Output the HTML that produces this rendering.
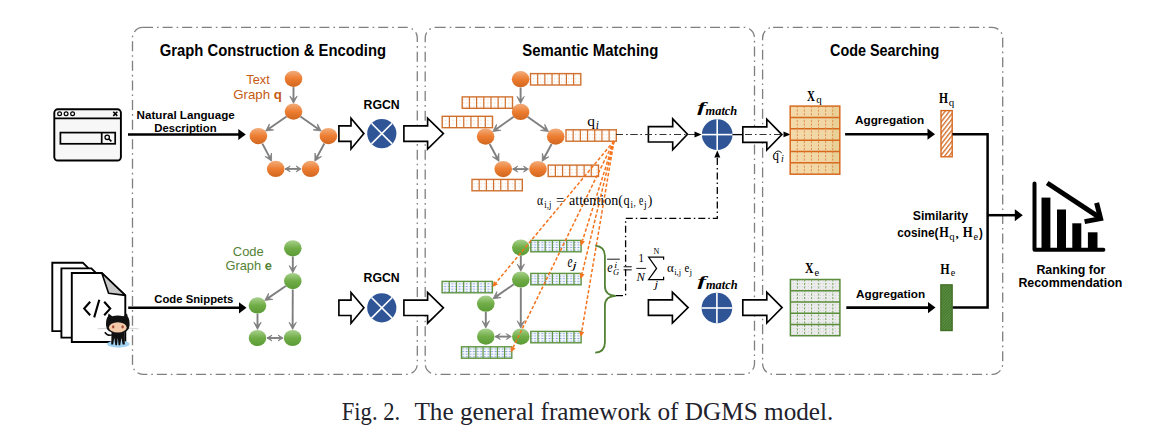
<!DOCTYPE html>
<html><head><meta charset="utf-8"><style>
html,body{margin:0;padding:0;background:#fff;width:1149px;height:434px;overflow:hidden}
svg{display:block}
</style></head><body>
<svg width="1149" height="434" viewBox="0 0 1149 434">
<defs>
<linearGradient id="gO" x1="0" y1="0" x2="0" y2="1">
 <stop offset="0" stop-color="#f2ad7c"/><stop offset="0.5" stop-color="#ed7d31"/><stop offset="1" stop-color="#d0671f"/>
</linearGradient>
<linearGradient id="gG" x1="0" y1="0" x2="0" y2="1">
 <stop offset="0" stop-color="#a9d18e"/><stop offset="0.5" stop-color="#70ad47"/><stop offset="1" stop-color="#5b9a36"/>
</linearGradient>
<pattern id="pO" width="3.5" height="3.5" patternUnits="userSpaceOnUse">
 <rect width="3.5" height="3.5" fill="#fff"/><rect x="1" y="1" width="1" height="1" fill="#f0c8a8"/>
</pattern>
<pattern id="pG" width="3.6" height="2.6" patternUnits="userSpaceOnUse" x="530" y="241">
 <rect width="3.6" height="2.6" fill="#f4f7fc"/><rect x="0.6" y="0.9" width="1.8" height="0.9" fill="#7d9bd6"/>
</pattern>
<linearGradient id="gMat" x1="0" y1="0" x2="1" y2="0">
 <stop offset="0" stop-color="#f4d9aa"/><stop offset="0.8" stop-color="#f0d6a4"/><stop offset="0.86" stop-color="#e9d096"/><stop offset="1" stop-color="#e9d096"/>
</linearGradient>
<pattern id="pMatG" width="3" height="3" patternUnits="userSpaceOnUse">
 <rect width="3" height="3" fill="#ececec"/><rect x="1" y="1" width="1" height="1" fill="#d4d4d4"/>
</pattern>
<pattern id="pHatchO" width="3.4" height="3.4" patternUnits="userSpaceOnUse" patternTransform="rotate(-52)">
 <rect width="3.4" height="3.4" fill="#fff"/><rect width="3.4" height="1.35" fill="#d46f2a"/>
</pattern>
<pattern id="pHatchG" width="2" height="2" patternUnits="userSpaceOnUse" patternTransform="rotate(-45)">
 <rect width="2" height="2" fill="#43752a"/><rect width="2" height="0.8" fill="#65994a"/>
</pattern>
</defs>
<rect width="1149" height="434" fill="#fff"/>
<rect x="132.5" y="27.4" width="284.8" height="346.90000000000003" rx="10.5" ry="10.5" fill="none" stroke="#7f7f7f" stroke-width="1.3" stroke-dasharray="10 4 1.6 4"/>
<rect x="425.2" y="27.4" width="329.3" height="346.90000000000003" rx="10.5" ry="10.5" fill="none" stroke="#7f7f7f" stroke-width="1.3" stroke-dasharray="10 4 1.6 4"/>
<rect x="762.6" y="27.4" width="240.10000000000002" height="346.90000000000003" rx="10.5" ry="10.5" fill="none" stroke="#7f7f7f" stroke-width="1.3" stroke-dasharray="10 4 1.6 4"/>
<text x="159.8" y="56.1" font-family="Liberation Sans" font-size="16" font-weight="bold" font-style="normal" fill="#000" text-anchor="start" textLength="226.2" lengthAdjust="spacingAndGlyphs" >Graph Construction &amp; Encoding</text>
<text x="522.3" y="56.2" font-family="Liberation Sans" font-size="16" font-weight="bold" font-style="normal" fill="#000" text-anchor="start" textLength="136" lengthAdjust="spacingAndGlyphs" >Semantic Matching</text>
<text x="830" y="56.0" font-family="Liberation Sans" font-size="16" font-weight="bold" font-style="normal" fill="#000" text-anchor="start" textLength="109.4" lengthAdjust="spacingAndGlyphs" >Code Searching</text>
<rect x="54.3" y="109.3" width="66.6" height="51.2" rx="3.5" fill="#f7f7f7" stroke="#000" stroke-width="1.9"/>
<line x1="54.3" y1="118.4" x2="120.9" y2="118.4" stroke="#000" stroke-width="1.9"/>
<circle cx="59.6" cy="113.8" r="1.9" fill="none" stroke="#000" stroke-width="1.2"/>
<circle cx="66.1" cy="113.8" r="1.9" fill="none" stroke="#000" stroke-width="1.2"/>
<circle cx="72.6" cy="113.8" r="1.9" fill="none" stroke="#000" stroke-width="1.2"/>
<path d="M113.3 111.7 L117.3 115.9 M117.3 111.7 L113.3 115.9" stroke="#000" stroke-width="1.6"/>
<rect x="60.4" y="132.6" width="54.8" height="11.2" fill="#f7f7f7" stroke="#000" stroke-width="1.7"/>
<line x1="101.7" y1="132.6" x2="101.7" y2="143.8" stroke="#000" stroke-width="1.7"/>
<circle cx="107.2" cy="137.3" r="2.2" fill="none" stroke="#000" stroke-width="1.3"/>
<line x1="108.8" y1="138.9" x2="111.4" y2="141.3" stroke="#000" stroke-width="1.6"/>
<line x1="128" y1="134.5" x2="239.3" y2="134.5" stroke="#000" stroke-width="2.6"/>
<polygon points="238.3,128.9 245.8,134.5 238.3,140.1" fill="#000"/>
<text x="136.6" y="118.5" font-family="Liberation Sans" font-size="11.3" font-weight="bold" font-style="normal" fill="#000" text-anchor="start" textLength="98.1" lengthAdjust="spacingAndGlyphs" >Natural Language</text>
<text x="154.3" y="132.0" font-family="Liberation Sans" font-size="11.3" font-weight="bold" font-style="normal" fill="#000" text-anchor="start" textLength="62.3" lengthAdjust="spacingAndGlyphs" >Description</text>
<text x="246.3" y="83.7" font-family="Liberation Sans" font-size="12.6" font-weight="normal" font-style="normal" fill="#c55a11" text-anchor="start" textLength="23.4" lengthAdjust="spacingAndGlyphs" >Text</text>
<text x="233.3" y="98.9" font-family="Liberation Sans" font-size="12.6" fill="#c55a11" textLength="48.6" lengthAdjust="spacingAndGlyphs">Graph <tspan font-weight="bold">q</tspan></text>
<line x1="293.50" y1="87.10" x2="293.50" y2="99.70" stroke="#7f7f7f" stroke-width="1.9"/>
<polygon points="289.80,96.10 293.50,103.30 297.20,96.10 293.50,99.70" fill="#7f7f7f" stroke="#7f7f7f" stroke-width="0.8" stroke-linejoin="miter"/>
<line x1="286.53" y1="116.47" x2="268.57" y2="129.00" stroke="#7f7f7f" stroke-width="1.9"/>
<polygon points="269.40,123.91 265.62,131.06 273.64,129.98 268.57,129.00" fill="#7f7f7f" stroke="#7f7f7f" stroke-width="0.8" stroke-linejoin="miter"/>
<line x1="300.46" y1="116.48" x2="318.25" y2="128.98" stroke="#7f7f7f" stroke-width="1.9"/>
<polygon points="313.18,129.94 321.20,131.04 317.43,123.88 318.25,128.98" fill="#7f7f7f" stroke="#7f7f7f" stroke-width="0.8" stroke-linejoin="miter"/>
<line x1="262.37" y1="143.62" x2="269.92" y2="157.93" stroke="#7f7f7f" stroke-width="1.9"/>
<polygon points="264.96,156.47 271.59,161.12 271.51,153.02 269.92,157.93" fill="#7f7f7f" stroke="#7f7f7f" stroke-width="0.8" stroke-linejoin="miter"/>
<line x1="324.35" y1="143.57" x2="316.51" y2="158.00" stroke="#7f7f7f" stroke-width="1.9"/>
<polygon points="314.98,153.07 314.80,161.17 321.48,156.60 316.51,158.00" fill="#7f7f7f" stroke="#7f7f7f" stroke-width="0.8" stroke-linejoin="miter"/>
<line x1="285.20" y1="168.90" x2="298.60" y2="168.90" stroke="#7f7f7f" stroke-width="1.9"/>
<polygon points="296.10,171.90 301.10,168.90 296.10,165.90 298.60,168.90" fill="#7f7f7f" stroke="#7f7f7f" stroke-width="0.8" stroke-linejoin="miter"/>
<polygon points="290.20,165.90 285.20,168.90 290.20,171.90 287.70,168.90" fill="#7f7f7f" stroke="#7f7f7f" stroke-width="0.8" stroke-linejoin="miter"/>
<ellipse cx="293.5" cy="78.8" rx="8.8" ry="8.1" fill="url(#gO)"/>
<ellipse cx="293.5" cy="111.6" rx="8.8" ry="8.1" fill="url(#gO)"/>
<ellipse cx="258.4" cy="136.1" rx="8.8" ry="8.1" fill="url(#gO)"/>
<ellipse cx="328.4" cy="136.1" rx="8.8" ry="8.1" fill="url(#gO)"/>
<ellipse cx="275.7" cy="168.9" rx="8.8" ry="8.1" fill="url(#gO)"/>
<ellipse cx="310.6" cy="168.9" rx="8.8" ry="8.1" fill="url(#gO)"/>
<polygon points="338.90,125.90 351.00,125.90 351.00,118.20 363.90,133.60 351.00,149.00 351.00,141.30 338.90,141.30" fill="#fff" stroke="#000" stroke-width="1.65" stroke-linejoin="miter"/>
<circle cx="381.8" cy="133.6" r="14.6" fill="#2f5597"/>
<line x1="371.4778" y1="123.2778" x2="392.1222" y2="143.9222" stroke="#fff" stroke-width="1.6"/>
<line x1="371.4778" y1="143.9222" x2="392.1222" y2="123.2778" stroke="#fff" stroke-width="1.6"/>
<text x="363.5" y="108.9" font-family="Liberation Sans" font-size="12.6" font-weight="bold" font-style="normal" fill="#000" text-anchor="start" textLength="36.2" lengthAdjust="spacingAndGlyphs" >RGCN</text>
<polygon points="403.90,125.90 427.60,125.90 427.60,118.20 443.40,133.60 427.60,149.00 427.60,141.30 403.90,141.30" fill="#fff" stroke="#000" stroke-width="1.65" stroke-linejoin="miter"/>
<path d="M52.3 262.7 L82.8 262.7 L88.3 268.2 L88.3 331.1 L52.3 331.1 Z" fill="#fff" stroke="#000" stroke-width="1.9" stroke-linejoin="miter"/>
<path d="M61.4 268.4 L91.4 268.4 L97.4 274.4 L97.4 337.59999999999997 L61.4 337.59999999999997 Z" fill="#fff" stroke="#000" stroke-width="1.9" stroke-linejoin="miter"/>
<path d="M71.8 273.0 L101.8 273.0 L125.3 295.4 L125.3 342.0 L71.8 342.0 Z" fill="#fff" stroke="#000" stroke-width="1.9"/>
<path d="M101.8 273.0 L108.6 293.2 L125.3 295.4 Z" fill="#c8c8c8" stroke="#000" stroke-width="1.6" stroke-linejoin="round"/>
<path d="M90.2 301.8 L84.2 308.6 L90.2 315.2" fill="none" stroke="#000" stroke-width="2.1"/>
<path d="M99.3 299.8 L94.2 317.4" fill="none" stroke="#000" stroke-width="2.1"/>
<path d="M104.2 301.8 L110.2 308.6 L104.2 315.2" fill="none" stroke="#000" stroke-width="2.1"/>
<ellipse cx="118.4" cy="344.0" rx="11.4" ry="3.7" fill="#a3d4f2"/>
<line x1="97.5" y1="328.8" x2="107.5" y2="328.2" stroke="#cfcfcf" stroke-width="0.9"/>
<line x1="128.5" y1="328.2" x2="138.5" y2="328.8" stroke="#cfcfcf" stroke-width="0.9"/>
<path d="M104.8 332.2 Q108.0 336.8 112.8 334.6" fill="none" stroke="#111" stroke-width="1.5"/>
<path d="M111.6 331.5 L124.4 331.5 L124.8 344.6 L122.6 344.6 L121.4 338 L120.2 345.2 L118.6 345.2 L117.8 338 L117.0 345.2 L115.4 345.2 L114.2 338 L113.2 344.6 L111.2 344.6 Z" fill="#111"/>
<path d="M106.0 325.2 Q105.8 319.0 107.9 316.4 L108.6 313.6 L112.2 316.2 Q117.8 314.6 123.4 316.2 L127.0 313.6 L127.7 316.4 Q129.8 319.0 129.6 325.2 Q129.2 333.4 117.8 333.4 Q106.4 333.4 106.0 325.2 Z" fill="#111"/>
<ellipse cx="117.8" cy="327.4" rx="8.9" ry="5.2" fill="#f2c9a9"/>
<ellipse cx="113.2" cy="326.8" rx="1.2" ry="1.6" fill="#a4483c"/>
<ellipse cx="122.6" cy="326.8" rx="1.2" ry="1.6" fill="#a4483c"/>
<line x1="128.2" y1="307.8" x2="240.0" y2="307.8" stroke="#000" stroke-width="2.6"/>
<polygon points="239.0,302.2 246.5,307.8 239.0,313.40000000000003" fill="#000"/>
<text x="154.3" y="303.4" font-family="Liberation Sans" font-size="11.8" font-weight="bold" font-style="normal" fill="#000" text-anchor="start" textLength="79.1" lengthAdjust="spacingAndGlyphs" >Code Snippets</text>
<text x="232.8" y="255.5" font-family="Liberation Sans" font-size="12.2" font-weight="normal" font-style="normal" fill="#548235" text-anchor="start" textLength="30.9" lengthAdjust="spacingAndGlyphs" >Code</text>
<text x="225.4" y="269.8" font-family="Liberation Sans" font-size="12.2" fill="#548235" textLength="46.4" lengthAdjust="spacingAndGlyphs">Graph <tspan font-weight="bold">e</tspan></text>
<line x1="292.80" y1="256.60" x2="292.80" y2="269.20" stroke="#7f7f7f" stroke-width="1.9"/>
<polygon points="289.10,265.60 292.80,272.80 296.50,265.60 292.80,269.20" fill="#7f7f7f" stroke="#7f7f7f" stroke-width="0.8" stroke-linejoin="miter"/>
<line x1="285.80" y1="285.92" x2="267.71" y2="298.37" stroke="#7f7f7f" stroke-width="1.9"/>
<polygon points="268.58,293.28 264.75,300.41 272.78,299.38 267.71,298.37" fill="#7f7f7f" stroke="#7f7f7f" stroke-width="0.8" stroke-linejoin="miter"/>
<line x1="292.77" y1="289.40" x2="292.64" y2="325.80" stroke="#7f7f7f" stroke-width="1.9"/>
<polygon points="288.96,322.19 292.63,329.40 296.36,322.21 292.64,325.80" fill="#7f7f7f" stroke="#7f7f7f" stroke-width="0.8" stroke-linejoin="miter"/>
<line x1="257.50" y1="313.70" x2="257.50" y2="325.80" stroke="#7f7f7f" stroke-width="1.9"/>
<polygon points="253.80,322.20 257.50,329.40 261.20,322.20 257.50,325.80" fill="#7f7f7f" stroke="#7f7f7f" stroke-width="0.8" stroke-linejoin="miter"/>
<line x1="267.00" y1="338.00" x2="280.60" y2="338.00" stroke="#7f7f7f" stroke-width="1.9"/>
<polygon points="278.10,341.00 283.10,338.00 278.10,335.00 280.60,338.00" fill="#7f7f7f" stroke="#7f7f7f" stroke-width="0.8" stroke-linejoin="miter"/>
<polygon points="272.00,335.00 267.00,338.00 272.00,341.00 269.50,338.00" fill="#7f7f7f" stroke="#7f7f7f" stroke-width="0.8" stroke-linejoin="miter"/>
<ellipse cx="292.8" cy="248.3" rx="8.8" ry="8.1" fill="url(#gG)"/>
<ellipse cx="292.8" cy="281.1" rx="8.8" ry="8.1" fill="url(#gG)"/>
<ellipse cx="257.5" cy="305.4" rx="8.8" ry="8.1" fill="url(#gG)"/>
<ellipse cx="257.5" cy="338.0" rx="8.8" ry="8.1" fill="url(#gG)"/>
<ellipse cx="292.6" cy="338.0" rx="8.8" ry="8.1" fill="url(#gG)"/>
<polygon points="338.90,300.10 351.00,300.10 351.00,292.40 363.90,307.80 351.00,323.20 351.00,315.50 338.90,315.50" fill="#fff" stroke="#000" stroke-width="1.65" stroke-linejoin="miter"/>
<circle cx="381.8" cy="307.8" r="14.6" fill="#2f5597"/>
<line x1="371.4778" y1="297.4778" x2="392.1222" y2="318.1222" stroke="#fff" stroke-width="1.6"/>
<line x1="371.4778" y1="318.1222" x2="392.1222" y2="297.4778" stroke="#fff" stroke-width="1.6"/>
<text x="363.5" y="281.9" font-family="Liberation Sans" font-size="12.6" font-weight="bold" font-style="normal" fill="#000" text-anchor="start" textLength="36.2" lengthAdjust="spacingAndGlyphs" >RGCN</text>
<polygon points="403.90,300.10 427.60,300.10 427.60,292.40 443.40,307.80 427.60,323.20 427.60,315.50 403.90,315.50" fill="#fff" stroke="#000" stroke-width="1.65" stroke-linejoin="miter"/>
<line x1="520.60" y1="87.50" x2="520.60" y2="100.00" stroke="#7f7f7f" stroke-width="1.9"/>
<polygon points="516.90,96.40 520.60,103.60 524.30,96.40 520.60,100.00" fill="#7f7f7f" stroke="#7f7f7f" stroke-width="0.8" stroke-linejoin="miter"/>
<line x1="513.66" y1="116.80" x2="495.73" y2="129.45" stroke="#7f7f7f" stroke-width="1.9"/>
<polygon points="496.54,124.35 492.79,131.53 500.81,130.40 495.73,129.45" fill="#7f7f7f" stroke="#7f7f7f" stroke-width="0.8" stroke-linejoin="miter"/>
<line x1="527.55" y1="116.79" x2="545.56" y2="129.46" stroke="#7f7f7f" stroke-width="1.9"/>
<polygon points="540.49,130.42 548.50,131.54 544.74,124.37 545.56,129.46" fill="#7f7f7f" stroke="#7f7f7f" stroke-width="0.8" stroke-linejoin="miter"/>
<line x1="489.65" y1="144.07" x2="497.30" y2="158.20" stroke="#7f7f7f" stroke-width="1.9"/>
<polygon points="492.33,156.79 499.01,161.36 498.83,153.27 497.30,158.20" fill="#7f7f7f" stroke="#7f7f7f" stroke-width="0.8" stroke-linejoin="miter"/>
<line x1="551.63" y1="144.06" x2="543.93" y2="158.21" stroke="#7f7f7f" stroke-width="1.9"/>
<polygon points="542.40,153.28 542.21,161.37 548.90,156.82 543.93,158.21" fill="#7f7f7f" stroke="#7f7f7f" stroke-width="0.8" stroke-linejoin="miter"/>
<line x1="512.70" y1="169.10" x2="526.00" y2="169.10" stroke="#7f7f7f" stroke-width="1.9"/>
<polygon points="523.50,172.10 528.50,169.10 523.50,166.10 526.00,169.10" fill="#7f7f7f" stroke="#7f7f7f" stroke-width="0.8" stroke-linejoin="miter"/>
<polygon points="517.70,166.10 512.70,169.10 517.70,172.10 515.20,169.10" fill="#7f7f7f" stroke="#7f7f7f" stroke-width="0.8" stroke-linejoin="miter"/>
<ellipse cx="520.6" cy="79.2" rx="8.8" ry="8.1" fill="url(#gO)"/>
<ellipse cx="520.6" cy="111.9" rx="8.8" ry="8.1" fill="url(#gO)"/>
<ellipse cx="485.6" cy="136.6" rx="8.8" ry="8.1" fill="url(#gO)"/>
<ellipse cx="555.7" cy="136.6" rx="8.8" ry="8.1" fill="url(#gO)"/>
<ellipse cx="503.2" cy="169.1" rx="8.8" ry="8.1" fill="url(#gO)"/>
<ellipse cx="538.0" cy="169.1" rx="8.8" ry="8.1" fill="url(#gO)"/>
<rect x="530.5" y="73.6" width="50.3" height="11.4" fill="url(#pO)" stroke="#d0702e" stroke-width="1.4"/>
<line x1="537.69" y1="73.6" x2="537.69" y2="85.0" stroke="#d0702e" stroke-width="1.2"/>
<line x1="544.87" y1="73.6" x2="544.87" y2="85.0" stroke="#d0702e" stroke-width="1.2"/>
<line x1="552.06" y1="73.6" x2="552.06" y2="85.0" stroke="#d0702e" stroke-width="1.2"/>
<line x1="559.24" y1="73.6" x2="559.24" y2="85.0" stroke="#d0702e" stroke-width="1.2"/>
<line x1="566.43" y1="73.6" x2="566.43" y2="85.0" stroke="#d0702e" stroke-width="1.2"/>
<line x1="573.61" y1="73.6" x2="573.61" y2="85.0" stroke="#d0702e" stroke-width="1.2"/>
<rect x="462.2" y="96.9" width="50.3" height="11.4" fill="url(#pO)" stroke="#d0702e" stroke-width="1.4"/>
<line x1="469.39" y1="96.9" x2="469.39" y2="108.30000000000001" stroke="#d0702e" stroke-width="1.2"/>
<line x1="476.57" y1="96.9" x2="476.57" y2="108.30000000000001" stroke="#d0702e" stroke-width="1.2"/>
<line x1="483.76" y1="96.9" x2="483.76" y2="108.30000000000001" stroke="#d0702e" stroke-width="1.2"/>
<line x1="490.94" y1="96.9" x2="490.94" y2="108.30000000000001" stroke="#d0702e" stroke-width="1.2"/>
<line x1="498.13" y1="96.9" x2="498.13" y2="108.30000000000001" stroke="#d0702e" stroke-width="1.2"/>
<line x1="505.31" y1="96.9" x2="505.31" y2="108.30000000000001" stroke="#d0702e" stroke-width="1.2"/>
<rect x="442.2" y="116.3" width="50.3" height="11.4" fill="url(#pO)" stroke="#d0702e" stroke-width="1.4"/>
<line x1="449.39" y1="116.3" x2="449.39" y2="127.7" stroke="#d0702e" stroke-width="1.2"/>
<line x1="456.57" y1="116.3" x2="456.57" y2="127.7" stroke="#d0702e" stroke-width="1.2"/>
<line x1="463.76" y1="116.3" x2="463.76" y2="127.7" stroke="#d0702e" stroke-width="1.2"/>
<line x1="470.94" y1="116.3" x2="470.94" y2="127.7" stroke="#d0702e" stroke-width="1.2"/>
<line x1="478.13" y1="116.3" x2="478.13" y2="127.7" stroke="#d0702e" stroke-width="1.2"/>
<line x1="485.31" y1="116.3" x2="485.31" y2="127.7" stroke="#d0702e" stroke-width="1.2"/>
<rect x="566.0" y="129.8" width="50.3" height="11.4" fill="url(#pO)" stroke="#d0702e" stroke-width="1.4"/>
<line x1="573.19" y1="129.8" x2="573.19" y2="141.20000000000002" stroke="#d0702e" stroke-width="1.2"/>
<line x1="580.37" y1="129.8" x2="580.37" y2="141.20000000000002" stroke="#d0702e" stroke-width="1.2"/>
<line x1="587.56" y1="129.8" x2="587.56" y2="141.20000000000002" stroke="#d0702e" stroke-width="1.2"/>
<line x1="594.74" y1="129.8" x2="594.74" y2="141.20000000000002" stroke="#d0702e" stroke-width="1.2"/>
<line x1="601.93" y1="129.8" x2="601.93" y2="141.20000000000002" stroke="#d0702e" stroke-width="1.2"/>
<line x1="609.11" y1="129.8" x2="609.11" y2="141.20000000000002" stroke="#d0702e" stroke-width="1.2"/>
<rect x="548.2" y="165.1" width="50.3" height="11.4" fill="url(#pO)" stroke="#d0702e" stroke-width="1.4"/>
<line x1="555.39" y1="165.1" x2="555.39" y2="176.5" stroke="#d0702e" stroke-width="1.2"/>
<line x1="562.57" y1="165.1" x2="562.57" y2="176.5" stroke="#d0702e" stroke-width="1.2"/>
<line x1="569.76" y1="165.1" x2="569.76" y2="176.5" stroke="#d0702e" stroke-width="1.2"/>
<line x1="576.94" y1="165.1" x2="576.94" y2="176.5" stroke="#d0702e" stroke-width="1.2"/>
<line x1="584.13" y1="165.1" x2="584.13" y2="176.5" stroke="#d0702e" stroke-width="1.2"/>
<line x1="591.31" y1="165.1" x2="591.31" y2="176.5" stroke="#d0702e" stroke-width="1.2"/>
<rect x="472.0" y="179.4" width="50.3" height="11.4" fill="url(#pO)" stroke="#d0702e" stroke-width="1.4"/>
<line x1="479.19" y1="179.4" x2="479.19" y2="190.8" stroke="#d0702e" stroke-width="1.2"/>
<line x1="486.37" y1="179.4" x2="486.37" y2="190.8" stroke="#d0702e" stroke-width="1.2"/>
<line x1="493.56" y1="179.4" x2="493.56" y2="190.8" stroke="#d0702e" stroke-width="1.2"/>
<line x1="500.74" y1="179.4" x2="500.74" y2="190.8" stroke="#d0702e" stroke-width="1.2"/>
<line x1="507.93" y1="179.4" x2="507.93" y2="190.8" stroke="#d0702e" stroke-width="1.2"/>
<line x1="515.11" y1="179.4" x2="515.11" y2="190.8" stroke="#d0702e" stroke-width="1.2"/>
<text x="587.3" y="126.3" font-family="Liberation Serif" font-size="15.5" fill="#000">q<tspan font-size="11.5" font-style="italic" dy="2.6" dx="0.6">i</tspan></text>
<line x1="520.80" y1="255.90" x2="520.80" y2="267.60" stroke="#7f7f7f" stroke-width="1.9"/>
<polygon points="517.10,264.00 520.80,271.20 524.50,264.00 520.80,267.60" fill="#7f7f7f" stroke="#7f7f7f" stroke-width="0.8" stroke-linejoin="miter"/>
<line x1="513.81" y1="284.33" x2="496.00" y2="296.65" stroke="#7f7f7f" stroke-width="1.9"/>
<polygon points="496.86,291.56 493.04,298.70 501.06,297.64 496.00,296.65" fill="#7f7f7f" stroke="#7f7f7f" stroke-width="0.8" stroke-linejoin="miter"/>
<line x1="520.80" y1="287.80" x2="520.80" y2="324.40" stroke="#7f7f7f" stroke-width="1.9"/>
<polygon points="517.10,320.80 520.80,328.00 524.50,320.80 520.80,324.40" fill="#7f7f7f" stroke="#7f7f7f" stroke-width="0.8" stroke-linejoin="miter"/>
<line x1="485.80" y1="312.00" x2="485.80" y2="324.40" stroke="#7f7f7f" stroke-width="1.9"/>
<polygon points="482.10,320.80 485.80,328.00 489.50,320.80 485.80,324.40" fill="#7f7f7f" stroke="#7f7f7f" stroke-width="0.8" stroke-linejoin="miter"/>
<line x1="495.30" y1="336.60" x2="508.80" y2="336.60" stroke="#7f7f7f" stroke-width="1.9"/>
<polygon points="506.30,339.60 511.30,336.60 506.30,333.60 508.80,336.60" fill="#7f7f7f" stroke="#7f7f7f" stroke-width="0.8" stroke-linejoin="miter"/>
<polygon points="500.30,333.60 495.30,336.60 500.30,339.60 497.80,336.60" fill="#7f7f7f" stroke="#7f7f7f" stroke-width="0.8" stroke-linejoin="miter"/>
<ellipse cx="520.8" cy="247.6" rx="8.8" ry="8.1" fill="url(#gG)"/>
<ellipse cx="520.8" cy="279.5" rx="8.8" ry="8.1" fill="url(#gG)"/>
<ellipse cx="485.8" cy="303.7" rx="8.8" ry="8.1" fill="url(#gG)"/>
<ellipse cx="485.8" cy="336.6" rx="8.8" ry="8.1" fill="url(#gG)"/>
<ellipse cx="520.8" cy="336.6" rx="8.8" ry="8.1" fill="url(#gG)"/>
<rect x="530.8" y="240.4" width="50.3" height="11.4" fill="url(#pG)" stroke="#5f9440" stroke-width="1.4"/>
<line x1="537.99" y1="240.4" x2="537.99" y2="251.8" stroke="#5f9440" stroke-width="1.2"/>
<line x1="545.17" y1="240.4" x2="545.17" y2="251.8" stroke="#5f9440" stroke-width="1.2"/>
<line x1="552.36" y1="240.4" x2="552.36" y2="251.8" stroke="#5f9440" stroke-width="1.2"/>
<line x1="559.54" y1="240.4" x2="559.54" y2="251.8" stroke="#5f9440" stroke-width="1.2"/>
<line x1="566.73" y1="240.4" x2="566.73" y2="251.8" stroke="#5f9440" stroke-width="1.2"/>
<line x1="573.91" y1="240.4" x2="573.91" y2="251.8" stroke="#5f9440" stroke-width="1.2"/>
<rect x="530.8" y="273.4" width="50.3" height="11.4" fill="url(#pG)" stroke="#5f9440" stroke-width="1.4"/>
<line x1="537.99" y1="273.4" x2="537.99" y2="284.79999999999995" stroke="#5f9440" stroke-width="1.2"/>
<line x1="545.17" y1="273.4" x2="545.17" y2="284.79999999999995" stroke="#5f9440" stroke-width="1.2"/>
<line x1="552.36" y1="273.4" x2="552.36" y2="284.79999999999995" stroke="#5f9440" stroke-width="1.2"/>
<line x1="559.54" y1="273.4" x2="559.54" y2="284.79999999999995" stroke="#5f9440" stroke-width="1.2"/>
<line x1="566.73" y1="273.4" x2="566.73" y2="284.79999999999995" stroke="#5f9440" stroke-width="1.2"/>
<line x1="573.91" y1="273.4" x2="573.91" y2="284.79999999999995" stroke="#5f9440" stroke-width="1.2"/>
<rect x="442.1" y="281.4" width="50.3" height="11.4" fill="url(#pG)" stroke="#5f9440" stroke-width="1.4"/>
<line x1="449.29" y1="281.4" x2="449.29" y2="292.79999999999995" stroke="#5f9440" stroke-width="1.2"/>
<line x1="456.47" y1="281.4" x2="456.47" y2="292.79999999999995" stroke="#5f9440" stroke-width="1.2"/>
<line x1="463.66" y1="281.4" x2="463.66" y2="292.79999999999995" stroke="#5f9440" stroke-width="1.2"/>
<line x1="470.84" y1="281.4" x2="470.84" y2="292.79999999999995" stroke="#5f9440" stroke-width="1.2"/>
<line x1="478.03" y1="281.4" x2="478.03" y2="292.79999999999995" stroke="#5f9440" stroke-width="1.2"/>
<line x1="485.21" y1="281.4" x2="485.21" y2="292.79999999999995" stroke="#5f9440" stroke-width="1.2"/>
<rect x="530.8" y="331.4" width="50.3" height="11.4" fill="url(#pG)" stroke="#5f9440" stroke-width="1.4"/>
<line x1="537.99" y1="331.4" x2="537.99" y2="342.79999999999995" stroke="#5f9440" stroke-width="1.2"/>
<line x1="545.17" y1="331.4" x2="545.17" y2="342.79999999999995" stroke="#5f9440" stroke-width="1.2"/>
<line x1="552.36" y1="331.4" x2="552.36" y2="342.79999999999995" stroke="#5f9440" stroke-width="1.2"/>
<line x1="559.54" y1="331.4" x2="559.54" y2="342.79999999999995" stroke="#5f9440" stroke-width="1.2"/>
<line x1="566.73" y1="331.4" x2="566.73" y2="342.79999999999995" stroke="#5f9440" stroke-width="1.2"/>
<line x1="573.91" y1="331.4" x2="573.91" y2="342.79999999999995" stroke="#5f9440" stroke-width="1.2"/>
<rect x="461.5" y="346.8" width="50.3" height="11.4" fill="url(#pG)" stroke="#5f9440" stroke-width="1.4"/>
<line x1="468.69" y1="346.8" x2="468.69" y2="358.2" stroke="#5f9440" stroke-width="1.2"/>
<line x1="475.87" y1="346.8" x2="475.87" y2="358.2" stroke="#5f9440" stroke-width="1.2"/>
<line x1="483.06" y1="346.8" x2="483.06" y2="358.2" stroke="#5f9440" stroke-width="1.2"/>
<line x1="490.24" y1="346.8" x2="490.24" y2="358.2" stroke="#5f9440" stroke-width="1.2"/>
<line x1="497.43" y1="346.8" x2="497.43" y2="358.2" stroke="#5f9440" stroke-width="1.2"/>
<line x1="504.61" y1="346.8" x2="504.61" y2="358.2" stroke="#5f9440" stroke-width="1.2"/>
<text x="567.5" y="266.7" font-family="Liberation Serif" font-size="16" font-style="italic" font-weight="normal" fill="#000" textLength="5.0" lengthAdjust="spacingAndGlyphs">e</text>
<text x="572.2" y="269.2" font-family="Liberation Serif" font-size="11" font-style="italic" font-weight="normal" fill="#000" textLength="4.6" lengthAdjust="spacingAndGlyphs">j</text>
<line x1="614.0" y1="141.0" x2="495.92" y2="282.77" stroke="#f4731c" stroke-width="1.5" stroke-dasharray="3.4 2"/>
<polygon points="493.92,281.11 492.40,287.00 497.92,284.44" fill="#f4731c"/>
<line x1="614.0" y1="141.0" x2="513.21" y2="347.36" stroke="#f4731c" stroke-width="1.5" stroke-dasharray="3.4 2"/>
<polygon points="510.88,346.22 510.80,352.30 515.55,348.50" fill="#f4731c"/>
<line x1="614.0" y1="141.0" x2="582.46" y2="240.76" stroke="#f4731c" stroke-width="1.5" stroke-dasharray="3.4 2"/>
<polygon points="579.98,239.97 580.80,246.00 584.94,241.54" fill="#f4731c"/>
<line x1="614.0" y1="141.0" x2="582.09" y2="273.65" stroke="#f4731c" stroke-width="1.5" stroke-dasharray="3.4 2"/>
<polygon points="579.56,273.04 580.80,279.00 584.61,274.26" fill="#f4731c"/>
<line x1="614.0" y1="141.0" x2="581.72" y2="331.58" stroke="#f4731c" stroke-width="1.5" stroke-dasharray="3.4 2"/>
<polygon points="579.16,331.14 580.80,337.00 584.28,332.01" fill="#f4731c"/>
<text x="537.0" y="204.6" font-family="Liberation Serif" font-size="13.8" font-style="normal" font-weight="normal" fill="#000" textLength="6.1" lengthAdjust="spacingAndGlyphs">α</text>
<text x="544.3" y="207.8" font-family="Liberation Serif" font-size="9.5" font-style="normal" font-weight="normal" fill="#000" textLength="7.0" lengthAdjust="spacingAndGlyphs">i,j</text>
<text x="555.9" y="204.6" font-family="Liberation Serif" font-size="13.8" font-style="normal" font-weight="normal" fill="#000" textLength="8.2" lengthAdjust="spacingAndGlyphs">=</text>
<text x="569.0" y="204.6" font-family="Liberation Serif" font-size="13.8" font-style="normal" font-weight="normal" fill="#000" textLength="54.0" lengthAdjust="spacingAndGlyphs">attention(</text>
<text x="623.6" y="204.6" font-family="Liberation Serif" font-size="13.8" font-style="normal" font-weight="normal" fill="#000" textLength="6.1" lengthAdjust="spacingAndGlyphs">q</text>
<text x="630.6" y="207.6" font-family="Liberation Serif" font-size="9.5" font-style="normal" font-weight="normal" fill="#000" textLength="2.5" lengthAdjust="spacingAndGlyphs">i</text>
<text x="633.5" y="205.5" font-family="Liberation Serif" font-size="11" font-style="normal" font-weight="normal" fill="#000" textLength="2.3" lengthAdjust="spacingAndGlyphs">,</text>
<text x="638.9" y="204.6" font-family="Liberation Serif" font-size="13.8" font-style="normal" font-weight="normal" fill="#000" textLength="4.3" lengthAdjust="spacingAndGlyphs">e</text>
<text x="644.1" y="207.8" font-family="Liberation Serif" font-size="9.5" font-style="normal" font-weight="normal" fill="#000" textLength="2.7" lengthAdjust="spacingAndGlyphs">j</text>
<text x="647.7" y="204.6" font-family="Liberation Serif" font-size="13.8" font-style="normal" font-weight="normal" fill="#000" textLength="4.6" lengthAdjust="spacingAndGlyphs">)</text>
<path d="M595.2 245.6 Q604.9 246.5 604.9 256 L604.9 286 Q604.9 295.5 615.9 295.8 Q604.9 296.1 604.9 305.6 L604.9 342.5 Q604.9 352.2 595.2 352.6" fill="none" stroke="#548235" stroke-width="1.8"/>
<path d="M616 295.6 L625.6 295.6 L625.6 218.4 L717.3 218.4 L717.3 157" fill="none" stroke="#000" stroke-width="1.3" stroke-dasharray="7 3 1.5 3"/>
<polygon points="714.3,157.5 717.3,150.6 720.3,157.5" fill="#000"/>
<line x1="607.1" y1="259.2" x2="619.8" y2="259.2" stroke="#000" stroke-width="0.9"/>
<text x="607.3" y="272.0" font-family="Liberation Serif" font-size="14" font-style="italic" font-weight="normal" fill="#000" textLength="5.4" lengthAdjust="spacingAndGlyphs">e</text>
<text x="614.3" y="267.6" font-family="Liberation Serif" font-size="9" font-style="italic" font-weight="normal" fill="#000" textLength="2.9" lengthAdjust="spacingAndGlyphs">i</text>
<text x="612.9" y="275.3" font-family="Liberation Serif" font-size="9" font-style="italic" font-weight="normal" fill="#000" textLength="6.1" lengthAdjust="spacingAndGlyphs">G</text>
<rect x="623.6" y="266.3" width="8.1" height="0.95" fill="#000"/><rect x="623.6" y="269.4" width="8.1" height="0.95" fill="#000"/>
<text x="638.4" y="262.4" font-family="Liberation Serif" font-size="11.5" font-style="normal" font-weight="normal" fill="#000" textLength="5.4" lengthAdjust="spacingAndGlyphs">1</text>
<line x1="636.3" y1="268.4" x2="646.1" y2="268.4" stroke="#000" stroke-width="0.9"/>
<text x="636.4" y="280.6" font-family="Liberation Serif" font-size="11.5" font-style="italic" font-weight="normal" fill="#000" textLength="8.4" lengthAdjust="spacingAndGlyphs">N</text>
<path d="M663.6 259.8 L663.6 257.2 L648.6 257.2 L656.6 268.4 L648.6 279.5 L663.6 279.5 L663.6 276.8" fill="none" stroke="#000" stroke-width="1.25"/>
<text x="653.5" y="253.6" font-family="Liberation Serif" font-size="7.4" font-style="normal" font-weight="normal" fill="#000" textLength="5.8" lengthAdjust="spacingAndGlyphs">N</text>
<text x="654.6" y="287.5" font-family="Liberation Serif" font-size="9.5" font-style="italic" font-weight="normal" fill="#000" textLength="3.6" lengthAdjust="spacingAndGlyphs">j</text>
<text x="667.1" y="272.3" font-family="Liberation Serif" font-size="12.5" font-style="normal" font-weight="normal" fill="#000" textLength="6.8" lengthAdjust="spacingAndGlyphs">α</text>
<text x="674.2" y="275.2" font-family="Liberation Serif" font-size="8.5" font-style="normal" font-weight="normal" fill="#000" textLength="6.9" lengthAdjust="spacingAndGlyphs">i,j</text>
<text x="684.4" y="272.3" font-family="Liberation Serif" font-size="12.5" font-style="normal" font-weight="normal" fill="#000" textLength="4.8" lengthAdjust="spacingAndGlyphs">e</text>
<text x="689.4" y="275.2" font-family="Liberation Serif" font-size="8.5" font-style="normal" font-weight="normal" fill="#000" textLength="2.6" lengthAdjust="spacingAndGlyphs">j</text>
<line x1="616" y1="134.5" x2="695" y2="134.5" stroke="#333" stroke-width="1.2" stroke-dasharray="7 3 1.5 3"/>
<polygon points="648.40,126.60 672.70,126.60 672.70,118.90 687.50,134.30 672.70,149.70 672.70,142.00 648.40,142.00" fill="#fff" stroke="#000" stroke-width="1.65" stroke-linejoin="miter"/>
<line x1="616" y1="134.5" x2="695" y2="134.5" stroke="#333" stroke-width="1.2" stroke-dasharray="7 3 1.5 3"/>
<polygon points="694.5,131.6 701.5,134.6 694.5,137.6" fill="#000"/>
<circle cx="717.2" cy="134.6" r="15.3" fill="#2f5597"/>
<line x1="701.9000000000001" y1="134.6" x2="732.5" y2="134.6" stroke="#fff" stroke-width="1.6"/>
<line x1="717.2" y1="119.3" x2="717.2" y2="149.9" stroke="#fff" stroke-width="1.6"/>
<text x="697.1999999999999" y="111.9" font-family="Liberation Serif" font-size="14.4" font-weight="bold" font-style="italic" fill="#000" textLength="8.6" lengthAdjust="spacingAndGlyphs">f</text>
<text x="705.6" y="114.60000000000001" font-family="Liberation Serif" font-size="12.6" font-weight="bold" font-style="italic" fill="#000" textLength="31.6" lengthAdjust="spacingAndGlyphs">match</text>
<line x1="732.5" y1="134.6" x2="743" y2="134.6" stroke="#000" stroke-width="1.3"/>
<polygon points="742.80,126.90 766.80,126.90 766.80,119.20 781.90,134.60 766.80,150.00 766.80,142.30 742.80,142.30" fill="#fff" stroke="#000" stroke-width="1.65" stroke-linejoin="miter"/>
<line x1="745" y1="134.5" x2="784" y2="134.5" stroke="#333" stroke-width="1.2" stroke-dasharray="7 3 1.5 3"/>
<polygon points="783.5,131.6 790.5,134.4 783.5,137.2" fill="#000"/>
<text x="772.6" y="159.7" font-family="Liberation Serif" font-size="14" font-style="normal" font-weight="normal" fill="#000" textLength="6.5" lengthAdjust="spacingAndGlyphs">q</text>
<text x="780.9" y="162.3" font-family="Liberation Serif" font-size="10.5" font-style="italic" font-weight="normal" fill="#000" textLength="2.8" lengthAdjust="spacingAndGlyphs">i</text>
<path d="M774.4 153.4 Q778.0 148.8 781.8 153.0" fill="none" stroke="#000" stroke-width="0.9"/>
<polygon points="648.40,299.90 672.40,299.90 672.40,292.20 688.10,307.60 672.40,323.00 672.40,315.30 648.40,315.30" fill="#fff" stroke="#000" stroke-width="1.65" stroke-linejoin="miter"/>
<circle cx="716.9" cy="308.0" r="15.3" fill="#2f5597"/>
<line x1="701.6" y1="308.0" x2="732.1999999999999" y2="308.0" stroke="#fff" stroke-width="1.6"/>
<line x1="716.9" y1="292.7" x2="716.9" y2="323.3" stroke="#fff" stroke-width="1.6"/>
<text x="697.5999999999999" y="286.0" font-family="Liberation Serif" font-size="14.4" font-weight="bold" font-style="italic" fill="#000" textLength="8.6" lengthAdjust="spacingAndGlyphs">f</text>
<text x="706.0" y="288.7" font-family="Liberation Serif" font-size="12.6" font-weight="bold" font-style="italic" fill="#000" textLength="31.6" lengthAdjust="spacingAndGlyphs">match</text>
<polygon points="742.80,299.90 766.80,299.90 766.80,292.20 782.10,307.60 766.80,323.00 766.80,315.30 742.80,315.30" fill="#fff" stroke="#000" stroke-width="1.65" stroke-linejoin="miter"/>
<rect x="790.2" y="106.1" width="49.6" height="68.1" fill="url(#gMat)" stroke="#d7691f" stroke-width="1.5"/>
<line x1="790.2" y1="117.45" x2="839.8000000000001" y2="117.45" stroke="#d7691f" stroke-width="1.5"/>
<line x1="790.2" y1="128.80" x2="839.8000000000001" y2="128.80" stroke="#d7691f" stroke-width="1.5"/>
<line x1="790.2" y1="140.15" x2="839.8000000000001" y2="140.15" stroke="#d7691f" stroke-width="1.5"/>
<line x1="790.2" y1="151.50" x2="839.8000000000001" y2="151.50" stroke="#d7691f" stroke-width="1.5"/>
<line x1="790.2" y1="162.85" x2="839.8000000000001" y2="162.85" stroke="#d7691f" stroke-width="1.5"/>
<line x1="797.29" y1="106.1" x2="797.29" y2="174.2" stroke="#e0843f" stroke-width="0.9" stroke-dasharray="2 1.5"/>
<line x1="804.37" y1="106.1" x2="804.37" y2="174.2" stroke="#e0843f" stroke-width="0.9" stroke-dasharray="2 1.5"/>
<line x1="811.46" y1="106.1" x2="811.46" y2="174.2" stroke="#e0843f" stroke-width="0.9" stroke-dasharray="2 1.5"/>
<line x1="818.54" y1="106.1" x2="818.54" y2="174.2" stroke="#e0843f" stroke-width="0.9" stroke-dasharray="2 1.5"/>
<line x1="825.63" y1="106.1" x2="825.63" y2="174.2" stroke="#e0843f" stroke-width="0.9" stroke-dasharray="2 1.5"/>
<line x1="832.71" y1="106.1" x2="832.71" y2="174.2" stroke="#e0843f" stroke-width="0.9" stroke-dasharray="2 1.5"/>
<rect x="790.4" y="279.5" width="49.5" height="56.2" fill="url(#pMatG)" stroke="#5a8d3a" stroke-width="1.5"/>
<line x1="790.4" y1="290.74" x2="839.9" y2="290.74" stroke="#5a8d3a" stroke-width="1.5"/>
<line x1="790.4" y1="301.98" x2="839.9" y2="301.98" stroke="#5a8d3a" stroke-width="1.5"/>
<line x1="790.4" y1="313.22" x2="839.9" y2="313.22" stroke="#5a8d3a" stroke-width="1.5"/>
<line x1="790.4" y1="324.46" x2="839.9" y2="324.46" stroke="#5a8d3a" stroke-width="1.5"/>
<line x1="797.47" y1="279.5" x2="797.47" y2="335.7" stroke="#6f9f52" stroke-width="0.9" stroke-dasharray="2 1.5"/>
<line x1="804.54" y1="279.5" x2="804.54" y2="335.7" stroke="#6f9f52" stroke-width="0.9" stroke-dasharray="2 1.5"/>
<line x1="811.61" y1="279.5" x2="811.61" y2="335.7" stroke="#6f9f52" stroke-width="0.9" stroke-dasharray="2 1.5"/>
<line x1="818.69" y1="279.5" x2="818.69" y2="335.7" stroke="#6f9f52" stroke-width="0.9" stroke-dasharray="2 1.5"/>
<line x1="825.76" y1="279.5" x2="825.76" y2="335.7" stroke="#6f9f52" stroke-width="0.9" stroke-dasharray="2 1.5"/>
<line x1="832.83" y1="279.5" x2="832.83" y2="335.7" stroke="#6f9f52" stroke-width="0.9" stroke-dasharray="2 1.5"/>
<text x="806.9" y="100.8" font-family="Liberation Serif" font-size="14.8" font-weight="bold" fill="#000" textLength="7.9" lengthAdjust="spacingAndGlyphs">X</text>
<text x="816.2" y="103.3" font-family="Liberation Serif" font-size="11" fill="#000" textLength="5.5" lengthAdjust="spacingAndGlyphs">q</text>
<text x="804.9" y="273.0" font-family="Liberation Serif" font-size="14.8" font-weight="bold" fill="#000" textLength="8.5" lengthAdjust="spacingAndGlyphs">X</text>
<text x="814.5" y="275.8" font-family="Liberation Serif" font-size="11" fill="#000" textLength="4.7" lengthAdjust="spacingAndGlyphs">e</text>
<text x="939.0" y="102.9" font-family="Liberation Serif" font-size="14.8" font-weight="bold" fill="#000" textLength="9.0" lengthAdjust="spacingAndGlyphs">H</text>
<text x="948.8" y="106.0" font-family="Liberation Serif" font-size="11" fill="#000" textLength="5.5" lengthAdjust="spacingAndGlyphs">q</text>
<text x="940.2" y="273.5" font-family="Liberation Serif" font-size="14.8" font-weight="bold" fill="#000" textLength="9.4" lengthAdjust="spacingAndGlyphs">H</text>
<text x="950.7" y="276.3" font-family="Liberation Serif" font-size="11" fill="#000" textLength="4.5" lengthAdjust="spacingAndGlyphs">e</text>
<line x1="845.1" y1="134.2" x2="928.5" y2="134.2" stroke="#000" stroke-width="2.6"/>
<polygon points="927.5,128.6 935.0,134.2 927.5,139.79999999999998" fill="#000"/>
<text x="855.0" y="124.3" font-family="Liberation Sans" font-size="11.8" font-weight="bold" font-style="normal" fill="#000" text-anchor="start" textLength="69.2" lengthAdjust="spacingAndGlyphs" >Aggregation</text>
<line x1="846.3" y1="307.6" x2="929.0" y2="307.6" stroke="#000" stroke-width="2.6"/>
<polygon points="928.0,302.0 935.5,307.6 928.0,313.20000000000005" fill="#000"/>
<text x="856.0" y="298.4" font-family="Liberation Sans" font-size="11.8" font-weight="bold" font-style="normal" fill="#000" text-anchor="start" textLength="69.1" lengthAdjust="spacingAndGlyphs" >Aggregation</text>
<rect x="941.0" y="110.6" width="11.2" height="46.2" fill="url(#pHatchO)" stroke="#d7691f" stroke-width="1.4"/>
<rect x="940.8" y="284.8" width="11.4" height="45.8" fill="url(#pHatchG)" stroke="#3f6d25" stroke-width="1.2"/>
<polyline points="952.4,134.2 987.6,134.2 987.6,307.6 952.8,307.6" fill="none" stroke="#000" stroke-width="2.5"/>
<line x1="987.6" y1="215.2" x2="1015.8" y2="215.2" stroke="#000" stroke-width="2.5"/>
<polygon points="1014.8,209.2 1022.8,215.2 1014.8,221.2" fill="#000"/>
<text x="912.7" y="219.7" font-family="Liberation Sans" font-size="12.3" font-weight="bold" font-style="normal" fill="#000" text-anchor="start" textLength="55.3" lengthAdjust="spacingAndGlyphs" >Similarity</text>
<text x="897.3" y="236.9" font-family="Liberation Sans" font-size="12.3" font-style="normal" font-weight="bold" fill="#000" textLength="41.2" lengthAdjust="spacingAndGlyphs">cosine(</text>
<text x="939.3" y="236.9" font-family="Liberation Serif" font-size="13.6" font-style="normal" font-weight="bold" fill="#000" textLength="9.5" lengthAdjust="spacingAndGlyphs">H</text>
<text x="949.2" y="239.5" font-family="Liberation Serif" font-size="10.5" font-style="normal" font-weight="normal" fill="#000" textLength="5.4" lengthAdjust="spacingAndGlyphs">q</text>
<text x="955.6" y="237.5" font-family="Liberation Serif" font-size="12" font-style="normal" font-weight="bold" fill="#000" textLength="3.2" lengthAdjust="spacingAndGlyphs">,</text>
<text x="962.8" y="236.9" font-family="Liberation Serif" font-size="13.6" font-style="normal" font-weight="bold" fill="#000" textLength="9.9" lengthAdjust="spacingAndGlyphs">H</text>
<text x="973.6" y="239.5" font-family="Liberation Serif" font-size="10.5" font-style="normal" font-weight="normal" fill="#000" textLength="4.6" lengthAdjust="spacingAndGlyphs">e</text>
<text x="979.0" y="236.9" font-family="Liberation Sans" font-size="12.3" font-style="normal" font-weight="bold" fill="#000" textLength="3.8" lengthAdjust="spacingAndGlyphs">)</text>
<path d="M1034.5 183.4 L1034.5 249.8 L1103.4 249.8" fill="none" stroke="#000" stroke-width="4" stroke-linecap="round" stroke-linejoin="round"/>
<rect x="1041.5" y="197.6" width="8.900000000000091" height="52.20000000000002" fill="#000"/>
<rect x="1057.0" y="209.5" width="9.0" height="40.30000000000001" fill="#000"/>
<rect x="1072.3" y="223.3" width="9.0" height="26.5" fill="#000"/>
<rect x="1087.9" y="232.3" width="9.599999999999909" height="17.5" fill="#000"/>
<path d="M1047.2 183.0 L1099.0 217.2" fill="none" stroke="#000" stroke-width="5" stroke-linecap="butt"/>
<path d="M1096.6 202.8 L1100.6 218.6 L1084.6 221.6" fill="none" stroke="#000" stroke-width="5" stroke-linecap="butt" stroke-linejoin="miter"/>
<text x="1036.4" y="274.3" font-family="Liberation Sans" font-size="12.3" font-weight="bold" font-style="normal" fill="#000" text-anchor="start" textLength="68.9" lengthAdjust="spacingAndGlyphs" >Ranking for</text>
<text x="1018.4" y="287.4" font-family="Liberation Sans" font-size="12.3" font-weight="bold" font-style="normal" fill="#000" text-anchor="start" textLength="103.9" lengthAdjust="spacingAndGlyphs" >Recommendation</text>
<text x="341.8" y="419.8" font-family="Liberation Serif" font-size="25" fill="#22222c" textLength="58.3" lengthAdjust="spacingAndGlyphs">Fig. 2.</text>
<text x="414.4" y="419.8" font-family="Liberation Serif" font-size="25" fill="#22222c" textLength="419" lengthAdjust="spacingAndGlyphs">The general framework of DGMS model.</text>
</svg>
</body></html>
